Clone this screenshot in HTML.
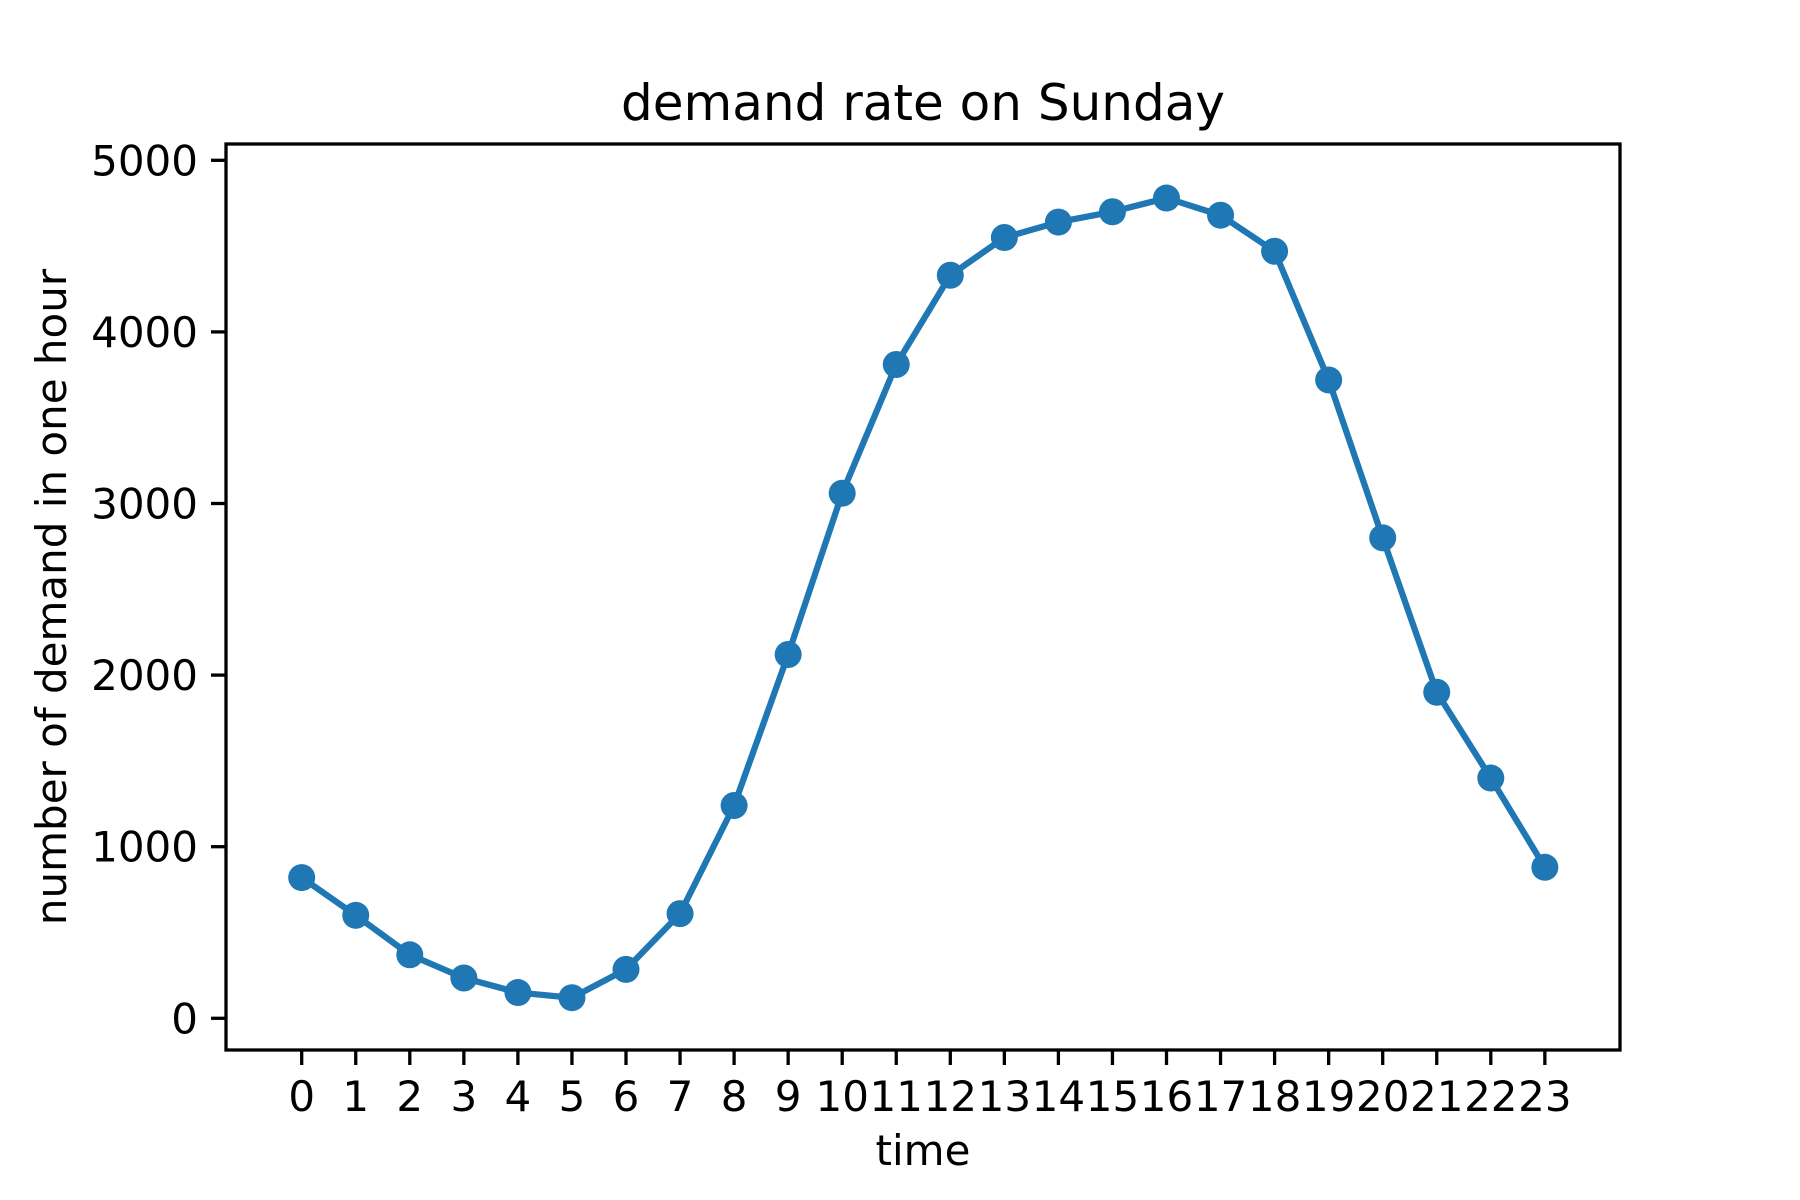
<!DOCTYPE html>
<html><head><meta charset="utf-8"><style>
html,body{margin:0;padding:0;background:#fff;}
svg{display:block;font-family:"DejaVu Sans","Liberation Sans",sans-serif;}
</style></head><body>
<svg id="chart" width="1800" height="1200" viewBox="0 0 1800 1200" xmlns="http://www.w3.org/2000/svg">
<rect width="1800" height="1200" fill="#fff"/>
<text x="923" y="120" font-size="50" text-anchor="middle">demand rate on Sunday</text>
<text x="923" y="1165" font-size="42" text-anchor="middle">time</text>
<text transform="translate(66,597) rotate(-90)" font-size="42" text-anchor="middle">number of demand in one hour</text>
<g id="ticks"></g>
<g id="series"></g>
<rect x="226" y="144" width="1394" height="906" fill="none" stroke="#000" stroke-width="3.3"/>
</svg>
<script>
const hours = [0,1,2,3,4,5,6,7,8,9,10,11,12,13,14,15,16,17,18,19,20,21,22,23];
const demand = [820,600,370,235,150,120,285,610,1240,2120,3060,3810,4330,4550,4640,4700,4780,4680,4470,3720,2800,1900,1400,880];
const yTicks = [0,1000,2000,3000,4000,5000];
const NS='http://www.w3.org/2000/svg';
function xs(v){return 301.7+v*54.05;}
function ys(v){return 1018.3-v*0.1716;}
function mk(tag,attrs,parent){const e=document.createElementNS(NS,tag);for(const k in attrs)e.setAttribute(k,attrs[k]);parent.appendChild(e);return e;}
const tg=document.getElementById('ticks'), sg=document.getElementById('series');
hours.forEach(h=>{
  const l=mk('line',{x1:xs(h),x2:xs(h),y1:1050,y2:1065,stroke:'#000','stroke-width':3.3},tg);
  
  
  const t=mk('text',{x:xs(h),y:1111,'font-size':42,'text-anchor':'middle'},tg);
  t.textContent=String(h);
  
  
});
yTicks.forEach(v=>{
  const l=mk('line',{x1:211,x2:226,y1:ys(v),y2:ys(v),stroke:'#000','stroke-width':3.3},tg);
  
  
  const t=mk('text',{x:198,y:ys(v)+15,'font-size':42,'text-anchor':'end'},tg);
  t.textContent=String(v);
  
  
});
const pl=mk('polyline',{points:hours.map((h,i)=>xs(h)+','+ys(demand[i])).join(' '),fill:'none',stroke:'#1f77b4','stroke-width':6.25,'stroke-linejoin':'round'},sg);


hours.forEach((h,i)=>{
  const c=mk('circle',{cx:xs(h),cy:ys(demand[i]),r:13.5,fill:'#1f77b4'},sg);
  
  
});
</script>
</body></html>
